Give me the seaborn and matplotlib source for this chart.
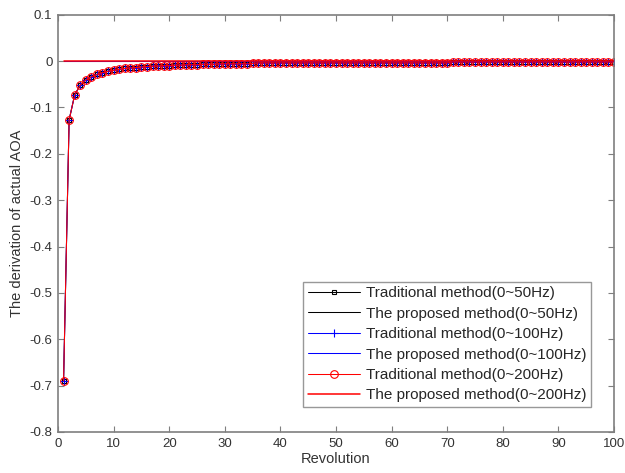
import matplotlib
matplotlib.use("Agg")
import matplotlib.pyplot as plt
import pandas as pd
import seaborn as sns

sns.set_theme(style="white")
plt.rcParams["font.family"] = ["Liberation Sans", "DejaVu Sans"]

# revolution index 1..100
revolution = list(range(1, 101))

# traditional method (all three bands nearly coincide)
trad_50 = [
    -0.690, -0.127, -0.073, -0.052, -0.041, -0.034, -0.029, -0.025, -0.022, -0.020,
    -0.018, -0.016, -0.015, -0.014, -0.013, -0.012, -0.011, -0.011, -0.010, -0.010,
    -0.009, -0.009, -0.008, -0.008, -0.008, -0.007, -0.007, -0.007, -0.006, -0.006,
    -0.006, -0.006, -0.006, -0.006, -0.005, -0.004, -0.004, -0.004, -0.004, -0.004,
    -0.004, -0.004, -0.004, -0.004, -0.004, -0.004, -0.004, -0.004, -0.004, -0.004,
    -0.004, -0.004, -0.004, -0.004, -0.004, -0.004, -0.004, -0.004, -0.004, -0.004,
    -0.004, -0.004, -0.004, -0.004, -0.004, -0.004, -0.004, -0.004, -0.004, -0.004,
    -0.002, -0.002, -0.002, -0.002, -0.002, -0.002, -0.002, -0.002, -0.002, -0.002,
    -0.002, -0.002, -0.002, -0.002, -0.002, -0.002, -0.002, -0.002, -0.002, -0.002,
    -0.002, -0.002, -0.002, -0.002, -0.002, -0.002, -0.002, -0.002, -0.002, -0.002,
]
trad_100 = list(trad_50)
trad_200 = list(trad_50)

# proposed method stays at zero for every band
prop_50 = [0.0] * 100
prop_100 = [0.0] * 100
prop_200 = [0.0] * 100

series = [
    ("Traditional method(0~50Hz)", trad_50, "black", "s", 3.5),
    ("The proposed method(0~50Hz)", prop_50, "black", None, 0),
    ("Traditional method(0~100Hz)", trad_100, "blue", "+", 6),
    ("The proposed method(0~100Hz)", prop_100, "blue", None, 0),
    ("Traditional method(0~200Hz)", trad_200, "red", "o", 5.5),
    ("The proposed method(0~200Hz)", prop_200, "red", None, 0),
]

fig = plt.figure(figsize=(6.25, 4.73), dpi=100)
ax = fig.add_axes([0.0928, 0.0867, 0.8896, 0.8823])

for i, (name, vals, color, marker, msize) in enumerate(series):
    df = pd.DataFrame({"Revolution": revolution, "value": vals})
    kw = dict(lw=0.75, zorder=2 + i * 0.1)
    if marker is not None:
        kw.update(marker=marker, markersize=msize, markerfacecolor="none",
                  markeredgecolor=color, markeredgewidth=0.8)
    else:
        kw["zorder"] = 3 + i * 0.1
        if color == "red":
            kw["lw"] = 1.1
    sns.lineplot(data=df, x="Revolution", y="value", color=color, ax=ax,
                 label=name, **kw)

ax.set_xlim(0, 100)
ax.set_ylim(-0.8, 0.1)
ax.set_xticks(range(0, 101, 10))
ax.set_yticks([-0.8, -0.7, -0.6, -0.5, -0.4, -0.3, -0.2, -0.1, 0, 0.1])
ax.set_yticklabels(["-0.8", "-0.7", "-0.6", "-0.5", "-0.4", "-0.3", "-0.2", "-0.1", "0", "0.1"])
ax.set_xlabel("Revolution", fontsize=10.5, color="#333333", labelpad=2)
ax.set_ylabel("The derivation of actual AOA", fontsize=10.5, color="#333333", labelpad=4)

for side in ["top", "bottom", "left", "right"]:
    ax.spines[side].set_color("#7f7f7f")
    ax.spines[side].set_linewidth(1.2)
ax.tick_params(direction="in", length=4, width=0.8, color="#7f7f7f",
               labelsize=9.5, labelcolor="#333333", top=True, right=True,
               bottom=True, left=True, pad=4)

leg = ax.legend(loc="lower right", bbox_to_anchor=(0.959, 0.06), fontsize=11,
                frameon=True, fancybox=False, borderpad=0.3, labelspacing=0.42,
                handlelength=3.4, handletextpad=0.4, borderaxespad=0)
leg.get_frame().set_edgecolor("#7f7f7f")
leg.get_frame().set_linewidth(1.0)

fig.savefig("out.png", dpi=100)
